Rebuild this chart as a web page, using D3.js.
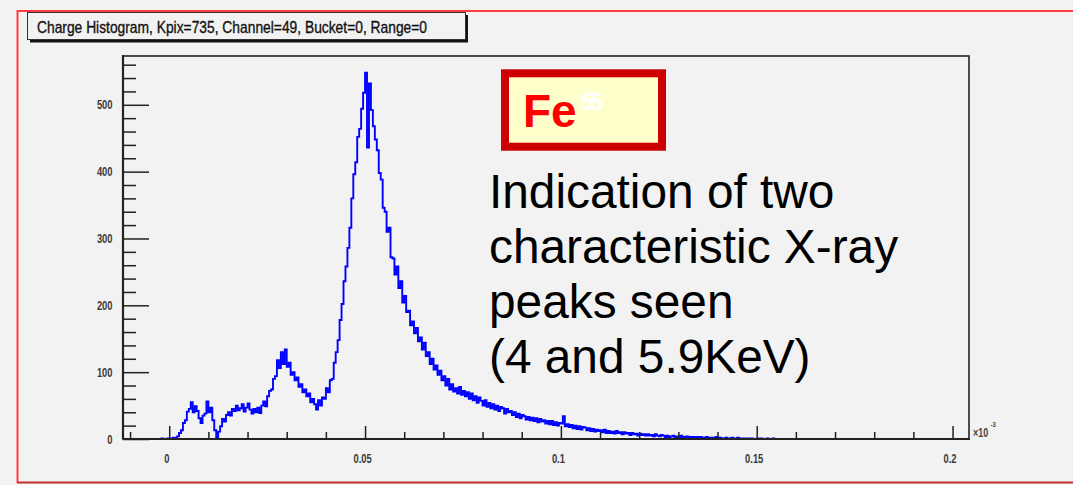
<!DOCTYPE html>
<html>
<head>
<meta charset="utf-8">
<script src="https://cdn.jsdelivr.net/npm/d3@7"></script>
<style>
  html, body { margin: 0; padding: 0; background: #f2f2f2; }
  svg { display: block; }
</style>
</head>
<body>
<svg id="chart" width="1073" height="485"></svg>
<script>
// ---- data ----
const titleText = "Charge Histogram, Kpix=735, Channel=49, Bucket=0, Range=0";
const binLow = -0.003;     // lower edge of the first bin
const binWidth = 0.0005;   // charge bin width
// entries per bin, starting at binLow
const counts = [
  0, 0, 1, 0, 0, 1, 0, 1, 2, 1,
  4, 9, 13, 24, 28, 41, 45, 55, 40, 49,
  42, 31, 24, 35, 38, 56, 40, 47, 28, 13,
  3, 11, 19, 30, 26, 36, 40, 35, 45, 42,
  50, 43, 46, 52, 41, 47, 53, 44, 38, 45,
  40, 47, 39, 50, 56, 49, 64, 72, 74, 90,
  94, 118, 106, 130, 112, 134, 108, 114, 96, 100,
  88, 92, 78, 82, 70, 74, 64, 68, 55, 60,
  52, 44, 58, 50, 62, 60, 76, 70, 88, 90,
  114, 130, 148, 178, 202, 236, 258, 286, 316, 360,
  396, 414, 452, 464, 494, 518, 548, 436, 532, 492,
  468, 448, 432, 398, 388, 346, 340, 310, 316, 272,
  270, 246, 258, 226, 236, 204, 214, 190, 192, 170,
  176, 158, 166, 146, 152, 134, 144, 124, 130, 112,
  120, 104, 110, 96, 102, 88, 94, 80, 90, 74,
  82, 71, 76, 68, 78, 66, 72, 64, 70, 60,
  68, 58, 64, 54, 62, 57, 50, 58, 48, 54,
  46, 52, 44, 50, 42, 48, 46, 38, 45, 40,
  42, 36, 40, 33, 38, 31, 36, 34, 29, 33,
  28, 32, 27, 31, 25, 30, 26, 28, 23, 27,
  22, 27, 21, 25, 20, 24, 23, 34, 19, 22,
  18, 21, 16, 20, 15, 19, 14, 18, 17, 13,
  16, 12, 15, 11, 14, 12, 13, 10, 14, 9,
  12, 9, 11, 8, 12, 9, 10, 7, 10, 8,
  9, 6, 9, 7, 8, 5, 8, 6, 7, 5,
  7, 5, 6, 4, 7, 5, 4, 6, 5, 3,
  5, 3, 4, 5, 2, 4, 3, 5, 3, 2,
  4, 2, 3, 3, 1, 3, 2, 3, 1, 2,
  3, 1, 2, 2, 1, 3, 1, 2, 1, 1,
  2, 1, 1, 2, 0, 1, 2, 0, 1, 1,
  1, 0, 1, 1, 0, 0, 1, 0, 1, 0,
  0, 1, 0, 0, 1, 0
];
const xDomain = [-0.0118, 0.2042];
const yDomain = [0, 573];
const xMajorTicks = [0, 0.05, 0.1, 0.15, 0.2];
const xTickLabels = ["0", "0.05", "0.1", "0.15", "0.2"];
const xMinorTicks = [-0.01, 0.01, 0.02, 0.03, 0.04, 0.06, 0.07, 0.08, 0.09,
                     0.11, 0.12, 0.13, 0.14, 0.16, 0.17, 0.18, 0.19];
const yMajorTicks = [0, 100, 200, 300, 400, 500];
const yMinorTicks = [20, 40, 60, 80, 120, 140, 160, 180, 220, 240, 260, 280,
                     320, 340, 360, 380, 420, 440, 460, 480, 520, 540, 560];
const axisExponent = ["\u00d710", "-3"];
const isotope = ["Fe", "55"];
const noteLines = ["Indication of two", "characteristic X-ray", "peaks seen", "(4 and 5.9KeV)"];

// ---- layout ----
const W = 1073, H = 485;
const frame = { left: 123, right: 969, top: 56, bottom: 439 };
const FONT = "'Liberation Sans', Arial, Helvetica, sans-serif";
const ink = "#222";

const svg = d3.select("#chart");

const x = d3.scaleLinear().domain(xDomain).range([frame.left, frame.right]);
const y = d3.scaleLinear().domain(yDomain).range([frame.bottom, frame.top]);

// canvas border
svg.append("line").attr("x1", 17.5).attr("x2", W + 5).attr("y1", 11).attr("y2", 11)
  .attr("stroke", "#ff3b3b").attr("stroke-width", 2);
svg.append("line").attr("x1", 17.5).attr("x2", 17.5).attr("y1", 10).attr("y2", 483)
  .attr("stroke", "#ff3b3b").attr("stroke-width", 2);
svg.append("line").attr("x1", 17).attr("x2", W + 5).attr("y1", 482.5).attr("y2", 482.5)
  .attr("stroke", "#c03030").attr("stroke-width", 2);

// title box with drop shadow
svg.append("rect").attr("x", 30).attr("y", 15).attr("width", 438).attr("height", 27.5)
  .attr("fill", "#111");
svg.append("rect").attr("x", 27.5).attr("y", 12.5).attr("width", 438).attr("height", 27)
  .attr("fill", "#f2f2f2").attr("stroke", "#333").attr("stroke-width", 1);
svg.append("text").attr("x", 37).attr("y", 32.5)
  .attr("font-family", FONT).attr("font-size", 17).attr("fill", "#111")
  .attr("stroke", "#111").attr("stroke-width", 0.35)
  .attr("textLength", 390).attr("lengthAdjust", "spacingAndGlyphs")
  .text(titleText);

// histogram
svg.append("clipPath").attr("id", "plot-clip").append("rect")
  .attr("x", frame.left).attr("y", frame.top)
  .attr("width", frame.right - frame.left).attr("height", frame.bottom - frame.top);

const steps = counts.map((c, i) => [binLow + i * binWidth, c]);
steps.push([binLow + counts.length * binWidth, counts[counts.length - 1]]);

svg.append("path")
  .datum(steps)
  .attr("clip-path", "url(#plot-clip)")
  .attr("fill", "none")
  .attr("stroke", "#0000ff")
  .attr("stroke-width", 1.9)
  .attr("stroke-linejoin", "miter")
  .attr("d", d3.line().x(d => x(d[0])).y(d => y(d[1])).curve(d3.curveStepAfter));

// axes (ticks point into the frame)
const labelScale = 0.72;

const xMinorAxis = d3.axisBottom(x).tickValues(xMinorTicks).tickSize(-7).tickSizeOuter(0).tickFormat("");
const xMajorAxis = d3.axisBottom(x).tickValues(xMajorTicks).tickSize(-13).tickSizeOuter(0)
  .tickPadding(15).tickFormat((d, i) => xTickLabels[i]);
const yMinorAxis = d3.axisLeft(y).tickValues(yMinorTicks).tickSize(-13).tickSizeOuter(0).tickFormat("");
const yMajorAxis = d3.axisLeft(y).tickValues(yMajorTicks).tickSize(-26).tickSizeOuter(0)
  .tickPadding(10.5 / labelScale).tickFormat(d3.format("d"));

function styleAxis(g) {
  g.select(".domain").remove();
  g.selectAll(".tick line").attr("stroke", ink).attr("stroke-width", 1.5);
  g.selectAll(".tick text")
    .attr("font-family", FONT).attr("font-size", 13).attr("font-weight", "bold")
    .attr("fill", "#3a3a3a")
    .attr("transform", `scale(${labelScale},1)`);
}

svg.append("g").attr("transform", `translate(0,${frame.bottom})`).call(xMinorAxis).call(styleAxis);
svg.append("g").attr("transform", `translate(0,${frame.bottom})`).call(xMajorAxis).call(styleAxis)
  .selectAll(".tick text").attr("dy", "0.71em").attr("x", -3 / labelScale);
svg.append("g").attr("transform", `translate(${frame.left},0)`).call(yMinorAxis).call(styleAxis);
svg.append("g").attr("transform", `translate(${frame.left},0)`).call(yMajorAxis).call(styleAxis);

// frame
svg.append("rect")
  .attr("x", frame.left).attr("y", frame.top)
  .attr("width", frame.right - frame.left).attr("height", frame.bottom - frame.top)
  .attr("fill", "none").attr("stroke", ink).attr("stroke-width", 1.6);
svg.append("line").attr("x1", frame.left).attr("x2", frame.right + 1)
  .attr("y1", frame.bottom).attr("y2", frame.bottom)
  .attr("stroke", ink).attr("stroke-width", 2.2);
svg.append("line").attr("x1", frame.left).attr("x2", frame.left)
  .attr("y1", frame.top - 1).attr("y2", frame.bottom)
  .attr("stroke", ink).attr("stroke-width", 2.2);

// axis exponent
const expo = svg.append("text").attr("font-family", FONT).attr("font-weight", "bold")
  .attr("fill", "#444")
  .attr("transform", `translate(${frame.right + 4},437) scale(0.75,1)`);
expo.append("tspan").attr("font-size", 12).text(axisExponent[0]);
expo.append("tspan").attr("font-size", 8).attr("dy", -10).attr("dx", 3).text(axisExponent[1]);

// isotope label
svg.append("rect").attr("x", 505).attr("y", 73.3).attr("width", 157).attr("height", 73.4)
  .attr("fill", "#ffffcc").attr("stroke", "#cc0000").attr("stroke-width", 8);
svg.append("text").attr("x", 523).attr("y", 126.5)
  .attr("font-family", FONT).attr("font-weight", "bold").attr("font-size", 46)
  .attr("fill", "#ff0000").text(isotope[0]);
svg.append("text").attr("x", 581).attr("y", 110)
  .attr("font-family", FONT).attr("font-weight", "bold").attr("font-size", 24)
  .attr("letter-spacing", -4).attr("fill", "#ffffff").text(isotope[1]);

// annotation
svg.append("g").selectAll("text").data(noteLines).join("text")
  .attr("x", 489)
  .attr("y", (d, i) => 208 + i * 55)
  .attr("font-family", FONT).attr("font-size", 47.8).attr("fill", "#000")
  .text(d => d);
</script>
</body>
</html>
